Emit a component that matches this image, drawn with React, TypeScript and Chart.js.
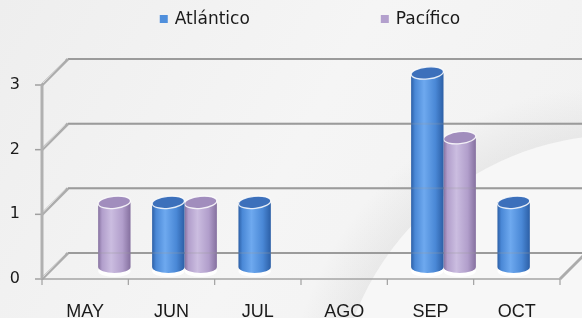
import React, { useEffect, useRef } from "react";
import { Chart, registerables } from "chart.js";

Chart.register(...registerables);

// ---- data ----
const categories = ["MAY", "JUN", "JUL", "AGO", "SEP", "OCT"];
const atlantico: (number | null)[] = [null, 1, 1, null, 3, 1];
const pacifico: (number | null)[] = [1, 1, null, null, 2, null];
const seriesNames = ["Atlántico", "Pacífico"];
const yTicks = [0, 1, 2, 3];

// ---- styles ----
const seriesColors = ["#4f8fdc", "#b3a0cd"];
const seriesShades = [
  { dark: "#2c5fa6", light: "#6ea9ef", mid: "#4a88d6", top: "#3c70bb" },
  { dark: "#85709f", light: "#cbbde0", mid: "#b19ecb", top: "#a18dbd" },
];
const DEPTH = 26;
const BAR_DX = 13;
const BAR_DY = -12;

function line(ctx: CanvasRenderingContext2D, x1: number, y1: number, x2: number, y2: number) {
  ctx.beginPath();
  ctx.moveTo(x1, y1);
  ctx.lineTo(x2, y2);
  ctx.stroke();
}

const backgroundPlugin = {
  id: "bg",
  beforeDraw(chart: any) {
    const { ctx, width, height } = chart;
    ctx.save();
    const g = ctx.createLinearGradient(0, 0, width, height);
    g.addColorStop(0, "#eeeeee");
    g.addColorStop(0.5, "#f5f5f5");
    g.addColorStop(1, "#f1f1f1");
    ctx.fillStyle = g;
    ctx.fillRect(0, 0, width, height);
    // soft swoosh
    const cx = 620, cy = 420, r = 285;
    const sh = ctx.createRadialGradient(cx, cy, r, cx, cy, r + 50);
    sh.addColorStop(0, "rgba(205,205,205,0.28)");
    sh.addColorStop(1, "rgba(205,205,205,0)");
    ctx.fillStyle = sh;
    ctx.fillRect(0, 0, width, height);
    ctx.beginPath();
    ctx.arc(cx, cy, r, 0, Math.PI * 2);
    ctx.fillStyle = "#f7f7f7";
    ctx.fill();
    ctx.restore();
  },
};

function drawBackLines(chart: any, alpha: number) {
  const { ctx, chartArea, scales } = chart;
  const y = scales.y;
  ctx.save();
  ctx.globalAlpha = alpha;
  ctx.strokeStyle = "#9c9c9c";
  ctx.lineWidth = 2;
  yTicks.forEach((v) => {
    const py = y.getPixelForValue(v);
    line(ctx, chartArea.left + DEPTH, py - DEPTH, chart.width, py - DEPTH);
  });
  ctx.restore();
}

const framePlugin = {
  id: "frame3d",
  beforeDatasetsDraw(chart: any) {
    const { ctx, chartArea, scales } = chart;
    const { left, right, bottom } = chartArea;
    const y = scales.y;
    const x = scales.x;
    drawBackLines(chart, 1);
    ctx.save();
    yTicks.forEach((v) => {
      const py = y.getPixelForValue(v);
      ctx.strokeStyle = "#acacac";
      ctx.lineWidth = 3;
      line(ctx, left, py, left + DEPTH, py - DEPTH);
      ctx.strokeStyle = "rgba(235,235,235,0.8)";
      ctx.lineWidth = 1;
      line(ctx, left + 1, py - 2, left + DEPTH - 3, py - DEPTH + 1);
      ctx.strokeStyle = "#a0a0a0";
      ctx.lineWidth = 1.5;
      line(ctx, left - 7, py, left, py);
    });
    ctx.strokeStyle = "#b0b0b0";
    ctx.lineWidth = 3;
    line(ctx, left, y.getPixelForValue(yTicks[yTicks.length - 1]), left, bottom);
    ctx.strokeStyle = "#a4a4a4";
    ctx.lineWidth = 1.5;
    line(ctx, left, bottom, right, bottom);
    ctx.strokeStyle = "#acacac";
    ctx.lineWidth = 3;
    line(ctx, right, bottom, right + DEPTH, bottom - DEPTH);
    ctx.strokeStyle = "#a0a0a0";
    ctx.lineWidth = 1.2;
    for (let i = 0; i <= categories.length; i++) {
      const bx = x.getPixelForValue(i - 0.5);
      line(ctx, bx, bottom, bx, bottom + 6);
    }
    ctx.restore();
  },
  beforeDatasetDraw(chart: any, args: any) {
    const { ctx } = chart;
    const meta = args.meta;
    const shade = seriesShades[args.index];
    ctx.save();
    meta.data.forEach((el: any, i: number) => {
      const raw = chart.data.datasets[args.index].data[i];
      if (raw === null || raw === undefined) return;
      const { x, y, base, width } = el.getProps(["x", "y", "base", "width"], true);
      const cx = x + BAR_DX;
      const top = y + BAR_DY;
      const bot = base + BAR_DY;
      const rx = width / 2;
      const ry = 6;
      ctx.fillStyle = "rgba(255,255,255,0.9)";
      ctx.beginPath();
      ctx.ellipse(cx, bot + 4, rx, ry, 0, 0, Math.PI * 2);
      ctx.fill();
      const g = ctx.createLinearGradient(cx - rx, 0, cx + rx, 0);
      g.addColorStop(0, shade.dark);
      g.addColorStop(0.12, shade.mid);
      g.addColorStop(0.4, shade.light);
      g.addColorStop(0.75, shade.mid);
      g.addColorStop(1, shade.dark);
      ctx.fillStyle = g;
      ctx.beginPath();
      ctx.moveTo(cx - rx, top);
      ctx.lineTo(cx - rx, bot);
      ctx.ellipse(cx, bot, rx, ry, 0, Math.PI, 0, true);
      ctx.lineTo(cx + rx, top);
      ctx.closePath();
      ctx.fill();
      ctx.beginPath();
      ctx.ellipse(cx, top, rx, ry, -0.1, 0, Math.PI * 2);
      ctx.fillStyle = shade.top;
      ctx.fill();
      ctx.strokeStyle = "rgba(255,255,255,0.85)";
      ctx.lineWidth = 1.3;
      ctx.stroke();
    });
    ctx.restore();
    return false;
  },
  afterDatasetsDraw(chart: any) {
    drawBackLines(chart, 0.22);
  },
};

const legendPlugin = {
  id: "customLegend",
  afterDraw(chart: any) {
    const { ctx } = chart;
    ctx.save();
    ctx.font = '17px "DejaVu Sans"';
    ctx.textBaseline = "middle";
    const box = 8;
    const gap = 131;
    const widths = seriesNames.map((n) => box + 7 + ctx.measureText(n).width);
    const total = widths.reduce((a, b) => a + b, 0) + gap * (widths.length - 1);
    let cx = 310 - total / 2;
    const cy = 20;
    chart.data.datasets.forEach((ds: any, i: number) => {
      ctx.fillStyle = ds.backgroundColor;
      ctx.fillRect(cx, cy - 5, box, box);
      ctx.fillStyle = "#1a1a1a";
      ctx.fillText(ds.label, cx + box + 7, cy);
      cx += widths[i] + gap;
    });
    ctx.restore();
  },
};

export default function App() {
  const ref = useRef<HTMLCanvasElement | null>(null);
  useEffect(() => {
    document.body.style.margin = "0";
    document.body.style.overflow = "hidden";
    const canvas = ref.current!;
    const chart = new Chart(canvas, {
      type: "bar",
      data: {
        labels: categories,
        datasets: [
          { label: seriesNames[0], data: atlantico, backgroundColor: seriesColors[0] },
          { label: seriesNames[1], data: pacifico, backgroundColor: seriesColors[1] },
        ],
      },
      options: {
        responsive: false,
        animation: false,
        devicePixelRatio: 1,
        layout: { padding: { top: 85, right: 22, left: 0, bottom: 0 } },
        datasets: { bar: { categoryPercentage: 0.75, barPercentage: 1 } },
        plugins: { legend: { display: false }, tooltip: { enabled: false } },
        scales: {
          x: {
            grid: { display: false, drawTicks: false },
            border: { display: false },
            ticks: { color: "#1a1a1a", font: { family: "Liberation Sans", size: 18 }, padding: 22 },
            afterFit: (s: any) => {
              s.height = 39;
            },
          },
          y: {
            min: 0,
            max: 3,
            grid: { display: false, drawTicks: false },
            border: { display: false },
            ticks: {
              stepSize: 1,
              color: "#1a1a1a",
              font: { family: "DejaVu Sans", size: 16 },
              padding: 22,
            },
            afterFit: (s: any) => {
              s.width = 42;
            },
          },
        },
      },
      plugins: [backgroundPlugin, framePlugin, legendPlugin],
    });
    return () => chart.destroy();
  }, []);
  return <canvas ref={ref} width={582} height={318} style={{ display: "block" }} />;
}
